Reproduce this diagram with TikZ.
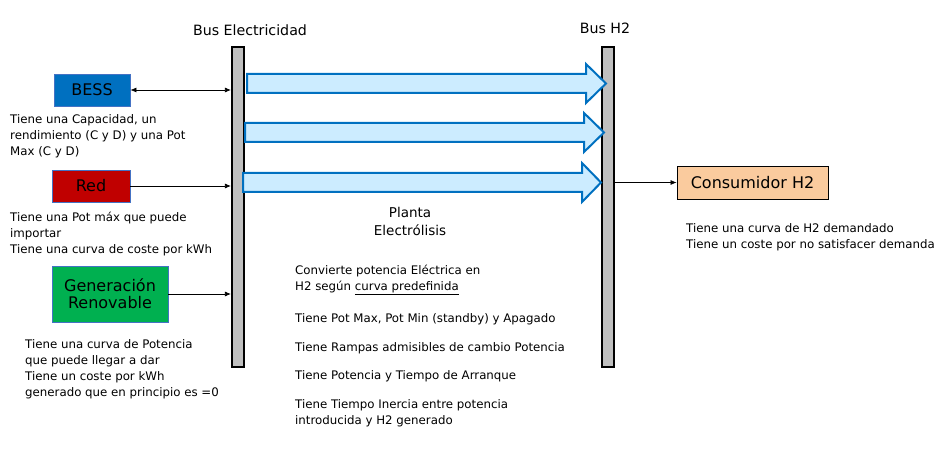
\documentclass[tikz,border=0pt]{standalone}
\usepackage{fontspec}
\setmainfont{DejaVu Sans}
\usetikzlibrary{arrows.meta}
\definecolor{bessblue}{RGB}{0,112,192}
\definecolor{redred}{RGB}{192,0,0}
\definecolor{rengreen}{RGB}{0,176,80}
\definecolor{conspeach}{RGB}{250,203,158}
\definecolor{lightblue}{RGB}{204,236,255}
\definecolor{busgray}{RGB}{191,191,191}
\definecolor{boxedge}{RGB}{68,114,196}
\tikzset{
  srcbox/.style={draw=boxedge, line width=0.8pt, inner sep=0pt, font=\fontsize{16}{19}\selectfont, align=center},
  bus/.style={draw=black, line width=2.2pt, fill=busgray, minimum width=12pt, inner sep=0pt},
  body/.style={anchor=north west, inner sep=0pt, align=left, font=\fontsize{11.8}{16}\selectfont},
  ttl/.style={font=\fontsize{14.2}{17}\selectfont, inner sep=0pt},
  conn/.style={line width=0.7pt, -{Latex[length=6pt,width=5pt]}},
  blockarrow/.style={draw=bessblue, fill=lightblue, line width=2pt, line join=miter},
}
\begin{document}
\begin{tikzpicture}[x=1pt,y=-1pt]
\useasboundingbox (0,0) rectangle (952,462);
% buses
\node[bus, minimum height=320pt, anchor=north] (lbus) at (238,46) {};
\node[bus, minimum height=320pt, anchor=north] (rbus) at (608,46) {};
\node[ttl] (lbl) at (250,30) {Bus Electricidad};
\node[ttl] (rbl) at (605,28) {Bus H2};
% source boxes
\node[srcbox, fill=bessblue, minimum width=76pt, minimum height=32pt] (bess) at (92,90) {BESS};
\node[srcbox, fill=redred, minimum width=78pt, minimum height=32pt] (red) at (91,186) {Red};
\node[srcbox, fill=rengreen, minimum width=116pt, minimum height=56pt] (ren) at (110,294) {Generación\\[-2pt]Renovable};
\node[srcbox, draw=black, fill=conspeach, minimum width=151pt, minimum height=33pt] (cons) at (752.5,182.5) {Consumidor H2};
% connectors
\draw[line width=0.7pt, {Latex[length=6pt,width=5pt]}-{Latex[length=6pt,width=5pt]}] (bess.east) -- (bess.east -| lbus.west);
\draw[conn] (red.east) -- (red.east -| lbus.west);
\draw[conn] (ren.east) -- (ren.east -| lbus.west);
\draw[conn] (cons.west -| rbus.east) -- (cons.west);
% block arrows
\draw[blockarrow] (247,74) -- (586,74) -- (586,64) -- (606,83.5) -- (586,103) -- (586,93) -- (247,93) -- cycle;
\draw[blockarrow] (245,123) -- (584,123) -- (584,113) -- (604,132.5) -- (584,152) -- (584,142) -- (245,142) -- cycle;
\draw[blockarrow] (243,173) -- (582,173) -- (582,163) -- (601,182.5) -- (582,202) -- (582,192) -- (243,192) -- cycle;
% texts
\node[body] (tbess) at (10,114) {Tiene una Capacidad, un\\rendimiento (C y D) y una Pot\\Max (C y D)};
\node[body] (tred) at (10,212) {Tiene una Pot máx que puede\\importar\\Tiene una curva de coste por kWh};
\node[body] (tren) at (25,339) {Tiene una curva de Potencia\\que puede llegar a dar\\Tiene un coste por kWh\\generado que en principio es =0};
\node[font=\fontsize{13.5}{18}\selectfont, align=center, inner sep=0pt] (planta) at (410,221) {Planta\\Electrólisis};
\node[body] (t1) at (295,265) {Convierte potencia Eléctrica en\\H2 según \underline{curva predefinida}};
\node[body] (t2) at (295,313) {Tiene Pot Max, Pot Min (standby) y Apagado};
\node[body] (t3) at (295,342) {Tiene Rampas admisibles de cambio Potencia};
\node[body] (t4) at (295,370) {Tiene Potencia y Tiempo de Arranque};
\node[body] (t5) at (295,399) {Tiene Tiempo Inercia entre potencia\\introducida y H2 generado};
\node[body] (tcons) at (686,223) {Tiene una curva de H2 demandado\\Tiene un coste por no satisfacer demanda};
\end{tikzpicture}
\end{document}
